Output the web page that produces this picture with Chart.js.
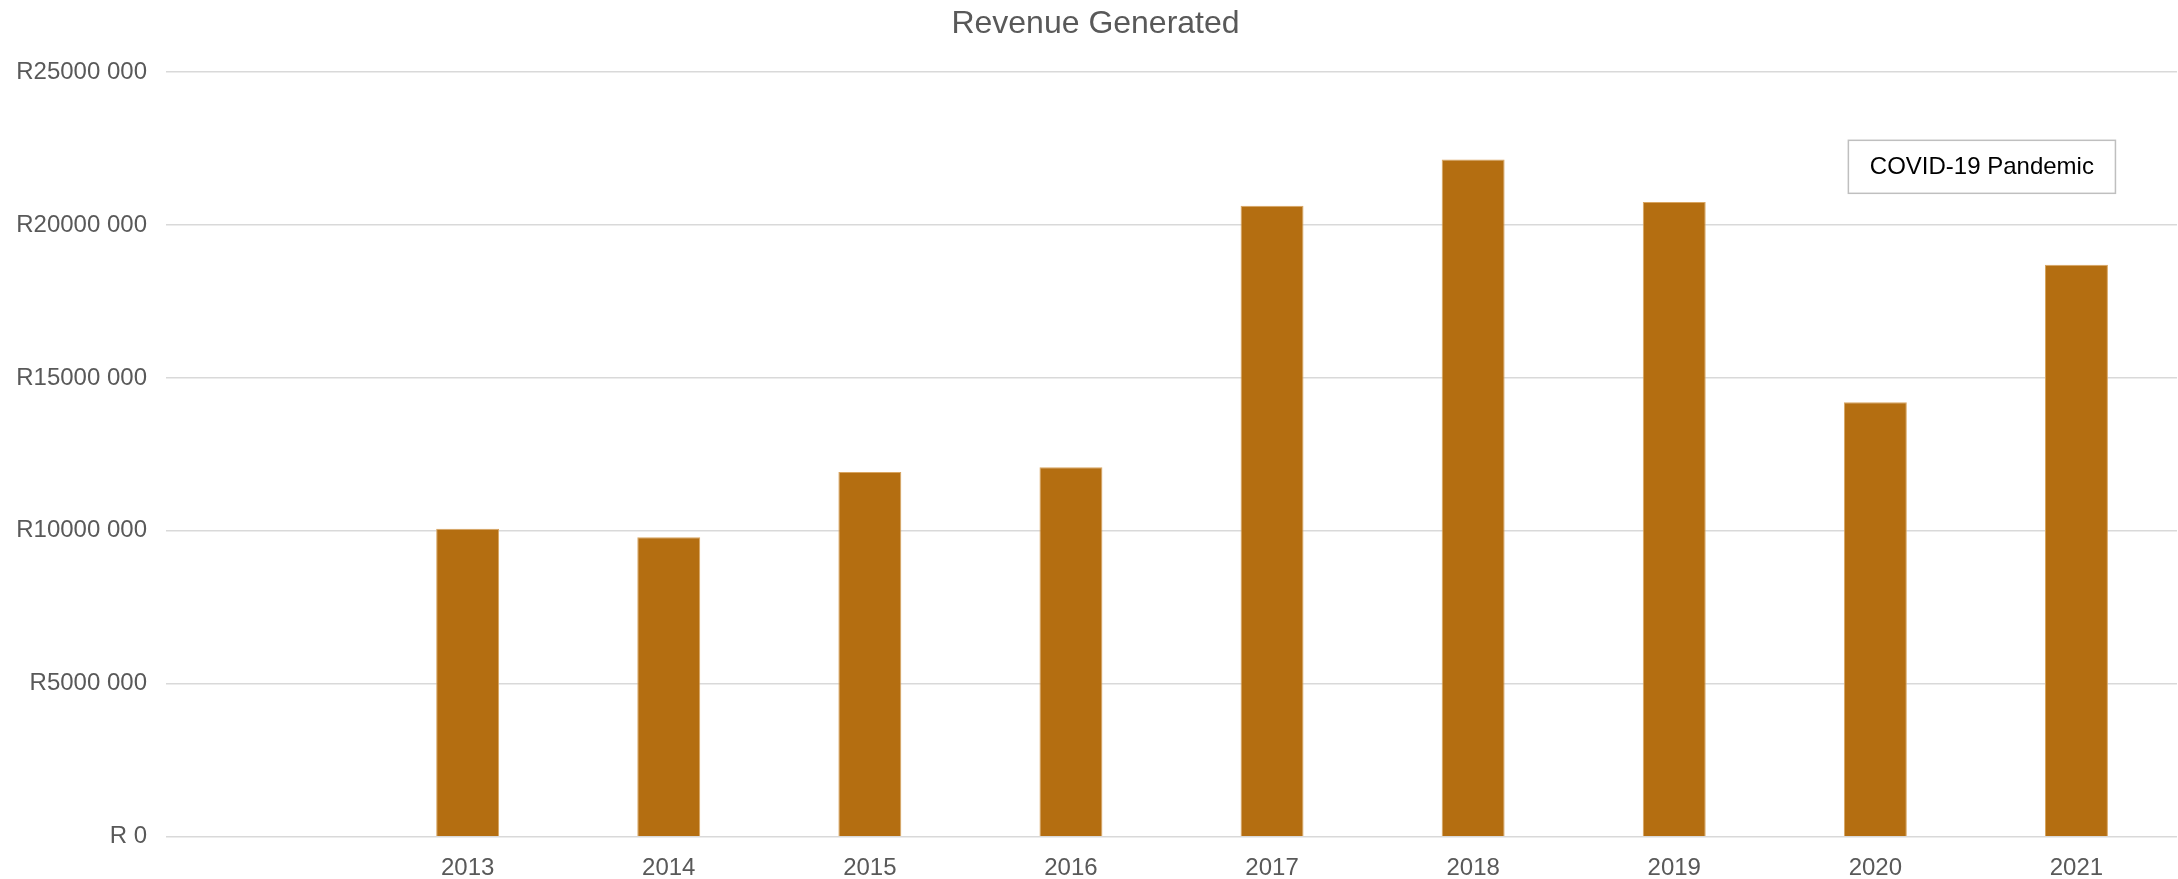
<!DOCTYPE html>
<html>
<head>
<meta charset="utf-8">
<title>Revenue Generated</title>
<script src="https://cdn.jsdelivr.net/npm/chart.js@4.4.1/dist/chart.umd.min.js"></script>
<style>
  html, body { margin: 0; padding: 0; background: #ffffff; }
  #wrap { width: 2178px; height: 879px; position: relative; }
</style>
</head>
<body>
<div id="wrap"><canvas id="myChart"></canvas></div>
<script>
// first slot is left empty in the original chart
const years = ['', '2013', '2014', '2015', '2016', '2017', '2018', '2019', '2020', '2021'];
const revenue = [null, 10070000, 9790000, 11920000, 12080000, 20630000, 22140000, 20750000, 14200000, 18700000];
const yTickLabels = ['R 0', 'R5000 000', 'R10000 000', 'R15000 000', 'R20000 000', 'R25000 000'];
const noteText = 'COVID-19 Pandemic';

const fontFamily = '"Liberation Sans", Arial, sans-serif';
const gray = '#595959';

// text box in the top right corner
const notePlugin = {
  id: 'note',
  afterDraw(chart) {
    const c = chart.ctx;
    const xs = chart.scales.x;
    const ys = chart.scales.y;
    const cx = (xs.getPixelForValue(8) + xs.getPixelForValue(9)) / 2 + 6;
    const cy = ys.getPixelForValue(21900000);
    c.save();
    c.font = '24px ' + fontFamily;
    const w = c.measureText(noteText).width + 43;
    const h = 53;
    c.fillStyle = '#ffffff';
    c.fillRect(cx - w / 2, cy - h / 2, w, h);
    c.strokeStyle = '#bfbfbf';
    c.lineWidth = 1.5;
    c.strokeRect(cx - w / 2, cy - h / 2, w, h);
    c.fillStyle = '#000000';
    c.textAlign = 'center';
    c.textBaseline = 'middle';
    c.fillText(noteText, cx, cy + 1);
    c.restore();
  }
};

const ctx = document.getElementById('myChart');

new Chart(ctx, {
  type: 'bar',
  data: {
    labels: years,
    datasets: [{
      label: 'Revenue',
      data: revenue,
      backgroundColor: '#b46e11',
      borderColor: '#d9a560',
      borderWidth: 1,
      barPercentage: 0.313,
      categoryPercentage: 1
    }]
  },
  options: {
    responsive: true,
    maintainAspectRatio: false,
    animation: false,
    layout: { padding: { left: 14, right: 1, top: 0, bottom: 0 } },
    plugins: {
      legend: { display: false },
      title: {
        display: true,
        text: 'Revenue Generated',
        color: gray,
        font: { family: fontFamily, size: 32, weight: 'normal' },
        padding: { top: 5, bottom: 28.6 }
      }
    },
    scales: {
      x: {
        afterFit(scale) { scale.height = 42.3; },
        grid: { display: false, drawTicks: false },
        border: { display: false },
        ticks: {
          color: gray,
          font: { family: fontFamily, size: 24 },
          padding: 17,
          maxRotation: 0
        }
      },
      y: {
        min: 0,
        max: 25000000,
        afterFit(scale) { scale.width = 152; },
        grid: { color: '#d9d9d9', lineWidth: 1.5, drawTicks: false },
        border: { display: false },
        ticks: {
          stepSize: 5000000,
          color: gray,
          font: { family: fontFamily, size: 24 },
          padding: 19,
          callback: function (value) {
            return yTickLabels[Math.round(value / 5000000)];
          }
        }
      }
    }
  },
  plugins: [notePlugin]
});
</script>
</body>
</html>
